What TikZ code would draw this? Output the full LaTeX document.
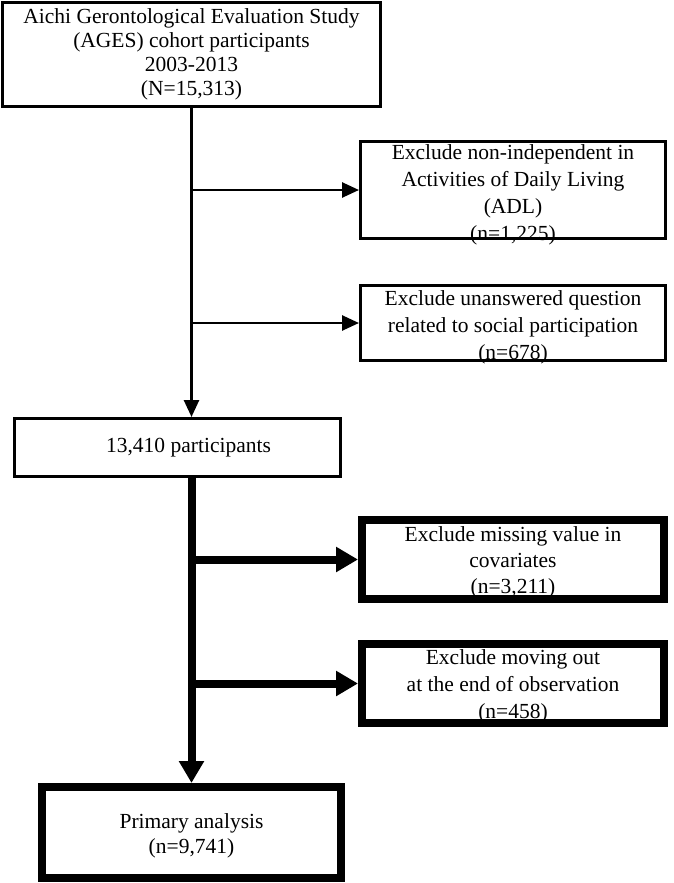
\documentclass[tikz,border=0pt]{standalone}
\usepackage{fontspec}
\setmainfont{Liberation Serif}
\usetikzlibrary{arrows.meta}

\begin{document}
\begin{tikzpicture}[x=1pt,y=1pt,yscale=-1,
  thinbox/.style={draw,line width=2.6pt,inner sep=0pt},
  thickbox/.style={thinbox,line width=8pt},
  boxtext/.style={align=center,inner sep=0pt,font=\fontsize{21.5}{24}\selectfont},
  excltext/.style={boxtext,font=\fontsize{21.5}{27}\selectfont},
  thinarrow/.style={line width=2.6pt,-{Triangle[length=17pt,width=15pt]}},
  thickarrow/.style={line width=8pt,-{Triangle[length=22pt,width=24pt]}}]
\useasboundingbox (0,0) rectangle (673,883);

% Boxes
\node[thinbox,minimum width=378.4pt,minimum height=104.4pt,
  label={[boxtext]center:{Aichi Gerontological Evaluation Study\\(AGES) cohort participants\\2003-2013\\(N=15,313)}}] (cohort) at (191.5,54.5) {};
\node[thinbox,minimum width=305.4pt,minimum height=97.4pt,
  label={[excltext,yshift=-5pt]center:{Exclude non-independent in\\Activities of Daily Living\\(ADL)\\(n=1,225)}}] (adl) at (513,190) {};
\node[thinbox,minimum width=305.4pt,minimum height=75.4pt,
  label={[excltext,yshift=-4pt]center:{Exclude unanswered question\\related to social participation\\(n=678)}}] (social) at (513,323) {};
\node[thinbox,minimum width=326.4pt,minimum height=58.4pt,
  label={[boxtext,xshift=11pt]center:13,410 participants}] (part) at (177.5,447.5) {};
\node[thickbox,minimum width=302pt,minimum height=79pt,
  label={[boxtext,font=\fontsize{21.5}{26}\selectfont,yshift=-3pt]center:{Exclude missing value in\\covariates\\(n=3,211)}}] (covar) at (513,559.5) {};
\node[thickbox,minimum width=302pt,minimum height=79pt,
  label={[excltext,yshift=-3pt]center:{Exclude moving out\\at the end of observation\\(n=458)}}] (moving) at (513,683.5) {};
\node[thickbox,minimum width=299pt,minimum height=91pt,
  label={[boxtext,font=\fontsize{21.5}{25}\selectfont,yshift=-3pt]center:{Primary analysis\\(n=9,741)}}] (primary) at (191.5,832.5) {};

% Connections
\draw[thinarrow] (cohort.south) -- (cohort.south |- part.north);
\draw[thinarrow] (cohort.south |- adl.west) -- (adl.west);
\draw[thinarrow] (cohort.south |- social.west) -- (social.west);
\draw[thickarrow] (part.south -| primary.north) -- (primary.north);
\draw[thickarrow] (primary.north |- covar.west) -- (covar.west);
\draw[thickarrow] (primary.north |- moving.west) -- (moving.west);

\end{tikzpicture}
\end{document}
